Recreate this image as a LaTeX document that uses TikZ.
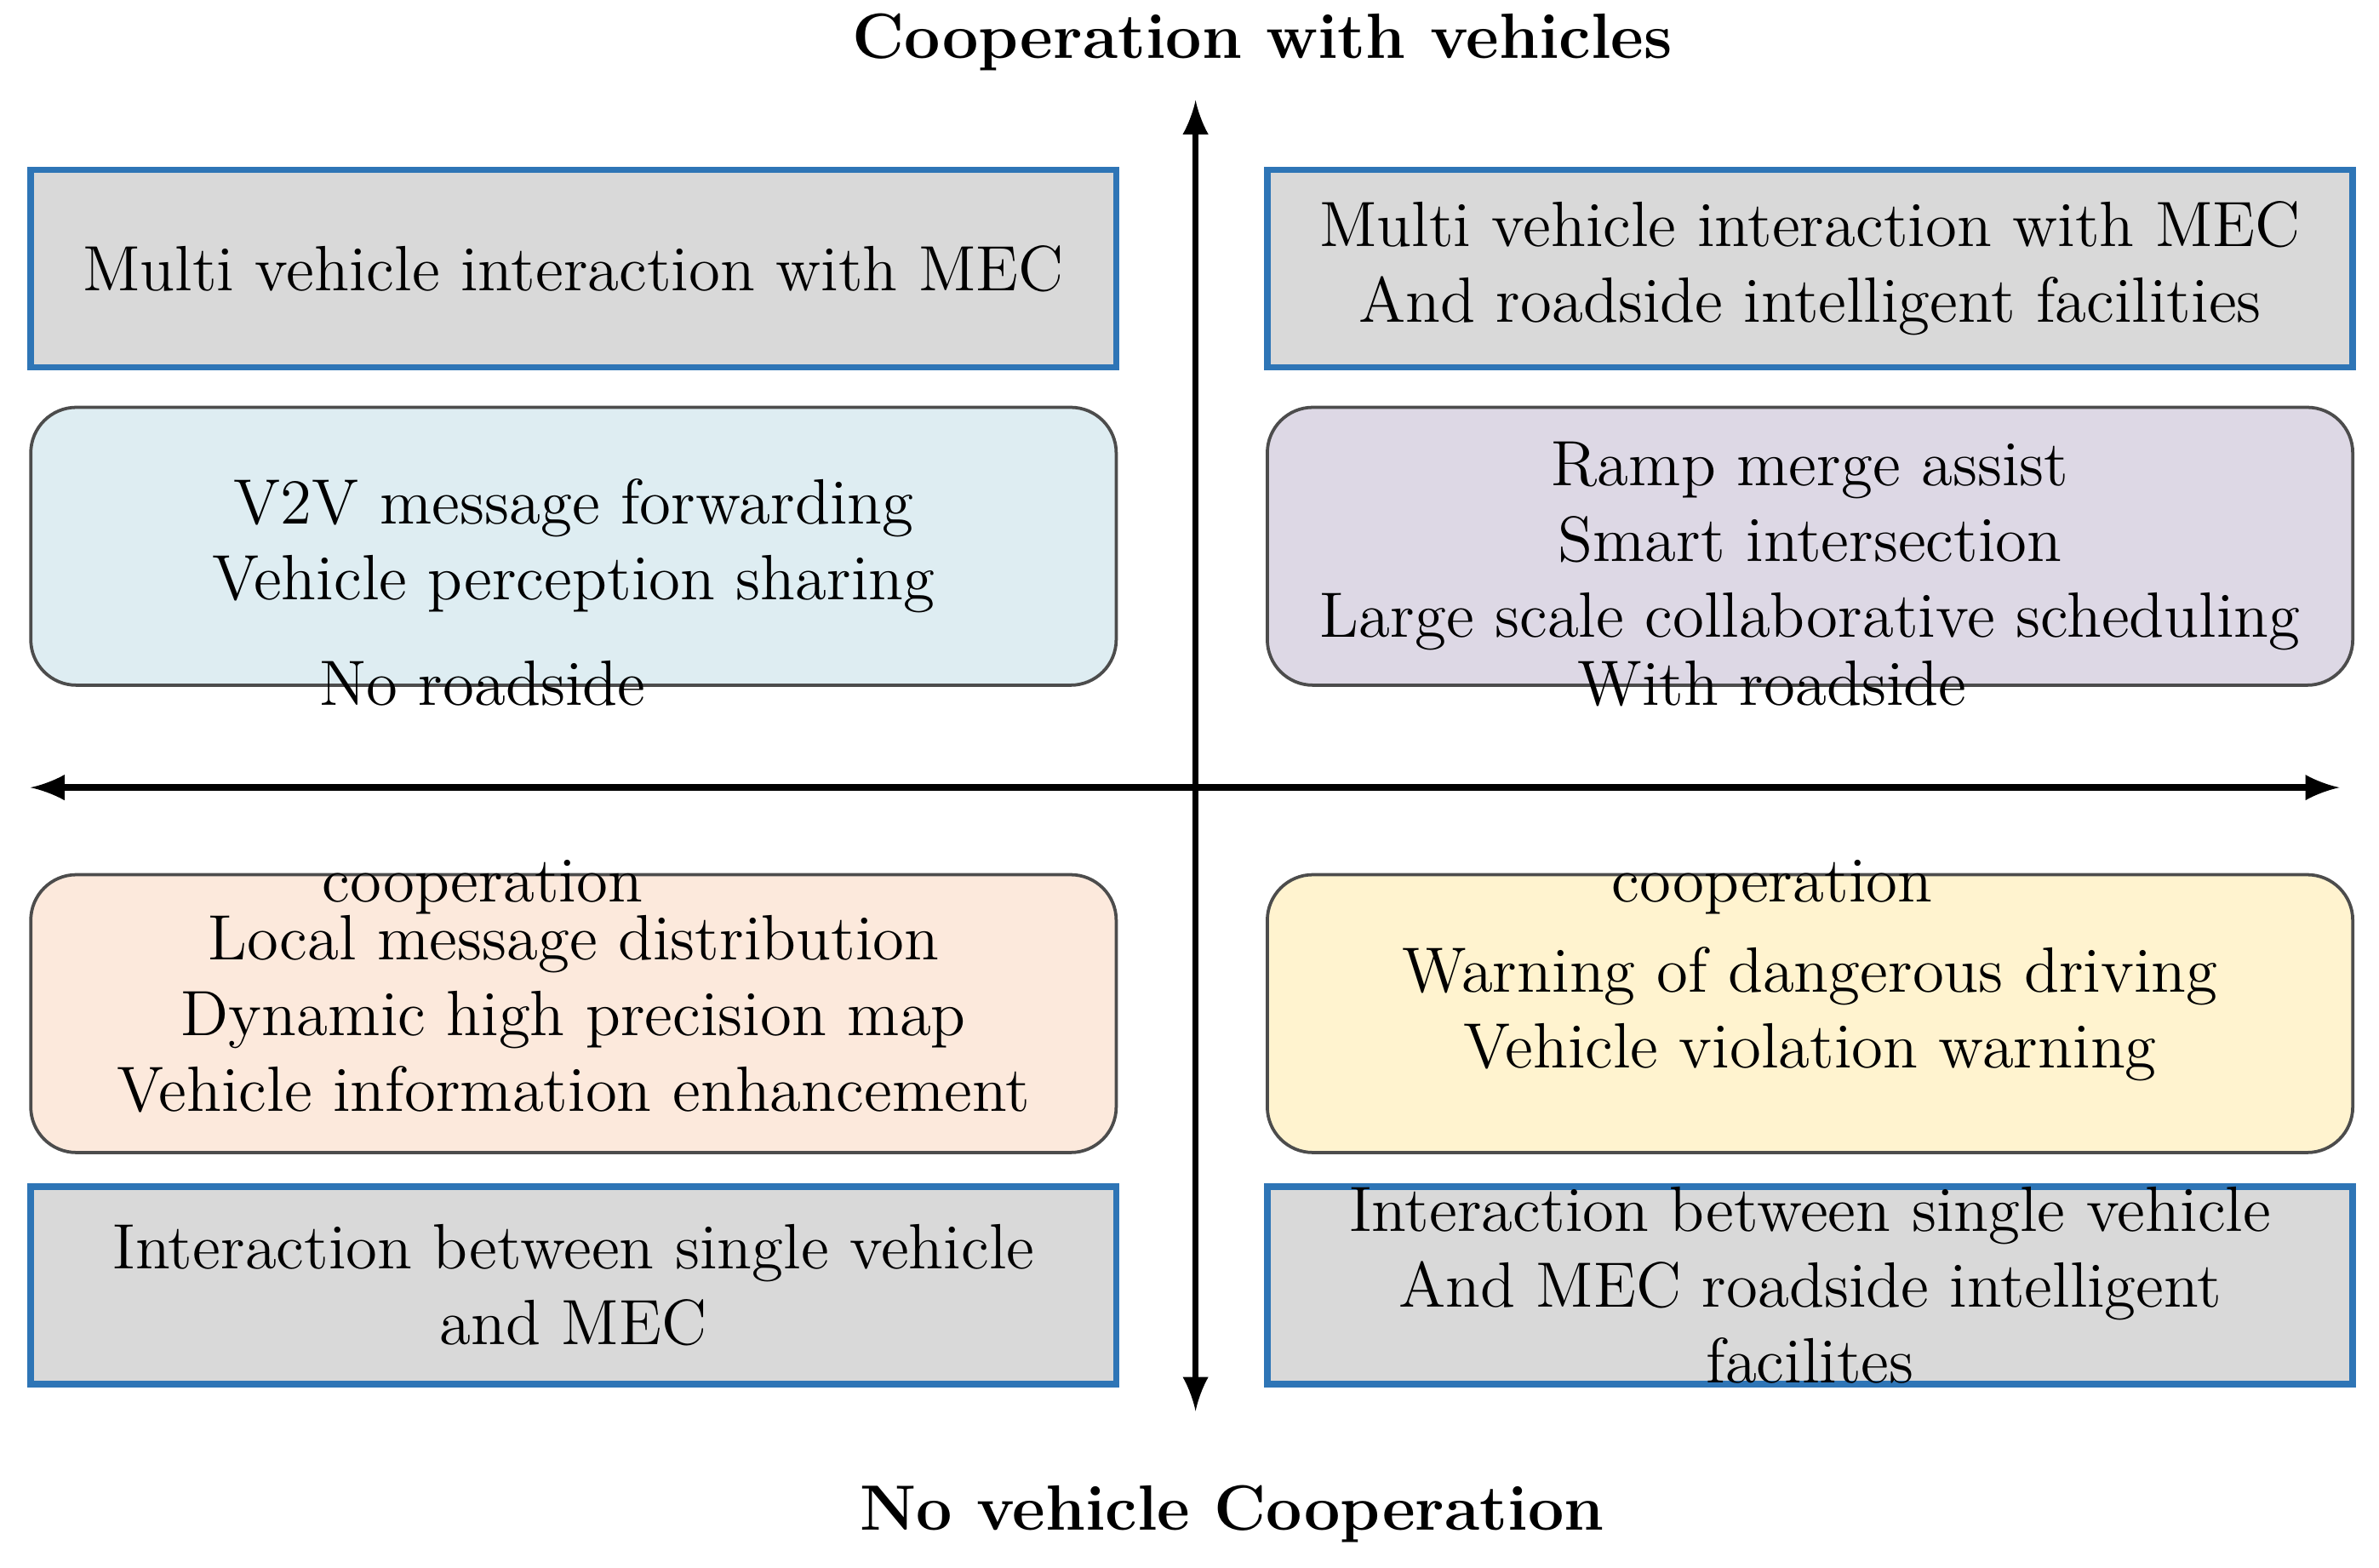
\documentclass[tikz,border=0pt]{standalone}
\usepackage{tikz}
\usetikzlibrary{arrows}
\definecolor{grayfill}{RGB}{217,217,217}
\definecolor{blueline}{RGB}{46,117,182}
\definecolor{bluefill}{RGB}{222,237,242}
\definecolor{purplefill}{RGB}{221,216,229}
\definecolor{orangefill}{RGB}{252,233,220}
\definecolor{yellowfill}{RGB}{255,243,207}
\begin{document}
\begin{tikzpicture}[x=0.01cm, y=-0.01cm,
  nodes={font=\fontsize{12}{14.2}\selectfont, align=center, inner sep=0pt},
  flat/.style={draw=blueline, line width=1.2pt, fill=grayfill, minimum width=7.15cm, minimum height=1.3cm},
  soft/.style={draw=black!70, line width=0.6pt, rounded corners=0.3cm, minimum width=7.15cm, minimum height=1.83cm},
  axis/.style={line width=1.2pt, -latex}]
\useasboundingbox (0,0) rectangle (1568,1033);
\node[font=\fontsize{12}{14.2}\bfseries] (top) at (832,28) {Cooperation with vehicles};
\node[font=\fontsize{12}{14.2}\bfseries] (bot) at (812,998) {No vehicle Cooperation};

\node[flat] (q1) at (378,177) {Multi vehicle interaction with MEC};
\node[flat] (q2) at (1193,177) {Multi vehicle interaction with MEC\\And roadside intelligent facilities};
\node[soft, fill=bluefill] (q3) at (378,360) {V2V message forwarding\\Vehicle perception sharing};
\node[soft, fill=purplefill] (q4) at (1193,360) {Ramp merge assist\\Smart intersection\\Large scale collaborative scheduling};
\node[soft, fill=orangefill] (q5) at (378,668) {Local message distribution\\Dynamic high precision map\\Vehicle information enhancement};
\node[soft, fill=yellowfill] (q6) at (1193,668) {Warning of dangerous driving\\Vehicle violation warning};
\node[flat] (q7) at (378,847) {Interaction between single vehicle\\and MEC};
\node[flat] (q8) at (1193,847) {Interaction between single vehicle\\And MEC roadside intelligent\\facilites};

\node (nr) at (318,519) {No roadside\\[0.8cm]cooperation};
\node (wr) at (1168,519) {With roadside\\[0.8cm]cooperation};

\coordinate (up) at (788,66);
\coordinate (down) at (788,930);
\coordinate (left) at (20,519);
\coordinate (right) at (1542,519);
\coordinate (mid) at (788,519);
\draw[axis] (mid) -- (up);
\draw[axis] (mid) -- (down);
\draw[axis] (mid) -- (left);
\draw[axis] (mid) -- (right);
\end{tikzpicture}
\end{document}
